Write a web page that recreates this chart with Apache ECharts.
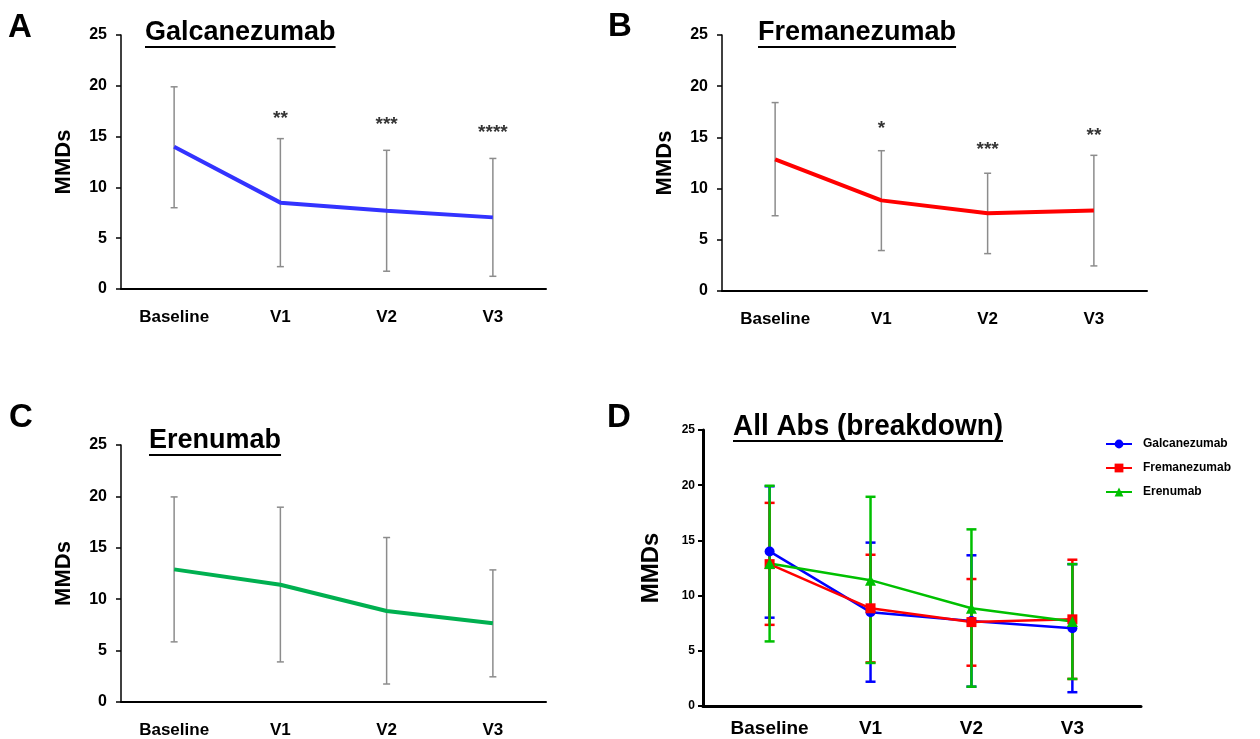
<!DOCTYPE html>
<html>
<head>
<meta charset="utf-8">
<title>MMDs by antibody</title>
<script src="https://cdn.jsdelivr.net/npm/echarts@6/dist/echarts.min.js"></script>
<style>
html, body { margin: 0; padding: 0; background: #fff; }
#main { width: 1260px; height: 739px; }
</style>
</head>
<body>
<div id="main"></div>
<script>
var visits = ['Baseline', 'V1', 'V2', 'V3'];

// mean and error bar ends
var galcMean = [14.0, 8.5, 7.7, 7.05];
var galcLow = [8.0, 2.2, 1.75, 1.25];
var galcHigh = [19.9, 14.8, 13.65, 12.85];

var fremMean = [12.85, 8.85, 7.6, 7.85];
var fremLow = [7.35, 3.95, 3.65, 2.45];
var fremHigh = [18.4, 13.7, 11.5, 13.25];

var ereMean = [12.9, 11.4, 8.85, 7.65];
var ereLow = [5.85, 3.9, 1.75, 2.45];
var ereHigh = [19.95, 18.95, 16.0, 12.85];

// significance marks and their heights
var galcStars = ['', '**', '***', '****'];
var galcStarY = [null, 16.8, 16.2, 15.4];
var fremStars = ['', '*', '***', '**'];
var fremStarY = [null, 15.8, 13.8, 15.2];

var FONT = '"Liberation Sans", Arial, sans-serif';

var chartDom = document.getElementById('main');
var myChart = echarts.init(chartDom);

var ctx = document.createElement('canvas').getContext('2d');
function textW(font, s) {
    ctx.font = font;
    return ctx.measureText(s).width;
}

function errData(low, high) {
    return low.map(function (v, i) { return [i, v, high[i]]; });
}
function pts(vals) {
    return vals.map(function (v, i) { return [i, v]; });
}

function errRender(capW, color, lw) {
    return function (params, api) {
        var x = api.value(0);
        var top = api.coord([x, api.value(2)]);
        var bot = api.coord([x, api.value(1)]);
        var st = { stroke: color, lineWidth: lw };
        return {
            type: 'group',
            children: [
                { type: 'line', shape: { x1: top[0], y1: top[1], x2: bot[0], y2: bot[1] }, style: st },
                { type: 'line', shape: { x1: top[0] - capW / 2, y1: top[1], x2: top[0] + capW / 2, y2: top[1] }, style: st },
                { type: 'line', shape: { x1: bot[0] - capW / 2, y1: bot[1], x2: bot[0] + capW / 2, y2: bot[1] }, style: st }
            ]
        };
    };
}

function catAxis(i) {
    return {
        type: 'category',
        gridIndex: i,
        data: visits,
        boundaryGap: true,
        axisLine: { lineStyle: { color: '#000', width: 2 } },
        axisTick: { show: false },
        axisLabel: { color: '#000', fontFamily: FONT, fontWeight: 'bold', fontSize: 17, margin: 20 },
        splitLine: { show: false }
    };
}
function valAxis(i) {
    return {
        type: 'value',
        gridIndex: i,
        min: 0,
        max: 25,
        interval: 5,
        name: 'MMDs',
        nameLocation: 'middle',
        nameGap: 46,
        nameTextStyle: { color: '#000', fontFamily: FONT, fontWeight: 'bold', fontSize: 22 },
        axisLine: { show: true, onZero: false, lineStyle: { color: '#000', width: 1.5 } },
        axisTick: { show: true, length: 5, lineStyle: { color: '#000', width: 1.5 } },
        axisLabel: { color: '#000', fontFamily: FONT, fontWeight: 'bold', fontSize: 16, margin: 14 },
        splitLine: { show: false }
    };
}

function grayErr(i, low, high) {
    return {
        type: 'custom',
        xAxisIndex: i,
        yAxisIndex: i,
        renderItem: errRender(7, '#8c8c8c', 1.5),
        encode: { x: 0, y: [1, 2] },
        data: errData(low, high),
        z: 1,
        silent: true
    };
}
function meanLine(i, vals, color) {
    return {
        type: 'line',
        xAxisIndex: i,
        yAxisIndex: i,
        data: vals,
        symbol: 'none',
        lineStyle: { color: color, width: 4 },
        z: 2,
        silent: true
    };
}
function starSeries(i, ys, marks) {
    return {
        type: 'scatter',
        xAxisIndex: i,
        yAxisIndex: i,
        data: ys,
        symbolSize: 0,
        label: {
            show: true,
            position: 'inside',
            color: '#000',
            fontFamily: FONT,
            fontWeight: 'bold',
            fontSize: 19,
            formatter: function (p) { return marks[p.dataIndex]; }
        },
        silent: true
    };
}

var dColors = ['#0000ff', '#ff0000', '#00c000'];

function dErr(low, high, color) {
    return {
        type: 'custom',
        xAxisIndex: 3,
        yAxisIndex: 3,
        renderItem: errRender(10, color, 2.5),
        encode: { x: 0, y: [1, 2] },
        data: errData(low, high),
        z: 2,
        silent: true
    };
}
function dLine(name, vals, color, symbol, size) {
    return {
        name: name,
        type: 'line',
        xAxisIndex: 3,
        yAxisIndex: 3,
        data: pts(vals),
        symbol: symbol,
        symbolSize: size,
        itemStyle: { color: color },
        lineStyle: { color: color, width: 2.5 },
        z: 3,
        silent: true
    };
}

// titles, panel letters and underlines (w = target drawn width, squeezes the narrow title)
var titles = [
    { text: 'Galcanezumab', x: 145, y: 33, uy: 47, font: 'bold 27px ' + FONT },
    { text: 'Fremanezumab', x: 758, y: 33, uy: 47, font: 'bold 27px ' + FONT },
    { text: 'Erenumab', x: 149, y: 441, uy: 455, font: 'bold 27px ' + FONT },
    { text: 'All Abs (breakdown)', x: 733, y: 427, uy: 441, font: 'bold 29px ' + FONT, w: 270 }
];
var letters = [
    { text: 'A', x: 8, y: 28 },
    { text: 'B', x: 608, y: 27 },
    { text: 'C', x: 9, y: 418 },
    { text: 'D', x: 607, y: 418 }
];
var graphics = [];
titles.forEach(function (t) {
    var full = textW(t.font, t.text);
    var sx = t.w ? t.w / full : 1;
    graphics.push({ type: 'text', x: t.x, y: t.y, scaleX: sx, style: { text: t.text, font: t.font, fill: '#000', verticalAlign: 'middle' } });
    graphics.push({ type: 'line', shape: { x1: t.x, y1: t.uy, x2: t.x + full * sx, y2: t.uy }, style: { stroke: '#000', lineWidth: 2 } });
});
letters.forEach(function (l) {
    graphics.push({ type: 'text', x: l.x, y: l.y, style: { text: l.text, font: 'bold 33px ' + FONT, fill: '#000', verticalAlign: 'middle' } });
});

var dX = {
    type: 'value',
    gridIndex: 3,
    min: -0.66,
    max: 3.68,
    axisLine: { onZero: false, lineStyle: { color: '#000', width: 3 } },
    axisTick: { show: false },
    splitLine: { show: false },
    axisLabel: {
        customValues: [0, 1, 2, 3],
        formatter: function (v) { return visits[Math.round(v)]; },
        color: '#000', fontFamily: FONT, fontWeight: 'bold', fontSize: 19, margin: 13
    }
};
var dY = valAxis(3);
dY.axisLine.lineStyle.width = 3;
dY.axisTick.lineStyle.width = 2;
dY.axisLabel.fontSize = 12;
dY.axisLabel.margin = 8;
dY.nameGap = 40;
dY.nameTextStyle.fontSize = 24;

var option = {
    backgroundColor: '#fff',
    animation: false,
    graphic: graphics,
    legend: {
        data: ['Galcanezumab', 'Fremanezumab', 'Erenumab'],
        orient: 'vertical',
        left: 1100,
        top: 433,
        itemGap: 12,
        itemWidth: 26,
        itemHeight: 11,
        textStyle: { color: '#000', fontFamily: FONT, fontWeight: 'bold', fontSize: 12, padding: [0, 0, 0, 6] }
    },
    grid: [
        { left: 121, top: 35, width: 425, height: 254 },
        { left: 722, top: 35, width: 425, height: 256 },
        { left: 121, top: 445, width: 425, height: 258 },
        { left: 703, top: 430, width: 438, height: 276 }
    ],
    xAxis: [catAxis(0), catAxis(1), catAxis(2), dX],
    yAxis: [valAxis(0), valAxis(1), valAxis(2), dY],
    series: [
        grayErr(0, galcLow, galcHigh),
        meanLine(0, galcMean, '#3333ff'),
        starSeries(0, galcStarY, galcStars),
        grayErr(1, fremLow, fremHigh),
        meanLine(1, fremMean, '#ff0000'),
        starSeries(1, fremStarY, fremStars),
        grayErr(2, ereLow, ereHigh),
        meanLine(2, ereMean, '#00b050'),
        dErr(galcLow, galcHigh, dColors[0]),
        dErr(fremLow, fremHigh, dColors[1]),
        dErr(ereLow, ereHigh, dColors[2]),
        dLine('Galcanezumab', galcMean, dColors[0], 'circle', 10),
        dLine('Fremanezumab', fremMean, dColors[1], 'rect', 10),
        dLine('Erenumab', ereMean, dColors[2], 'triangle', 11)
    ]
};
option && myChart.setOption(option);

window.addEventListener('resize', function () {
    myChart.resize();
});
</script>
</body>
</html>
